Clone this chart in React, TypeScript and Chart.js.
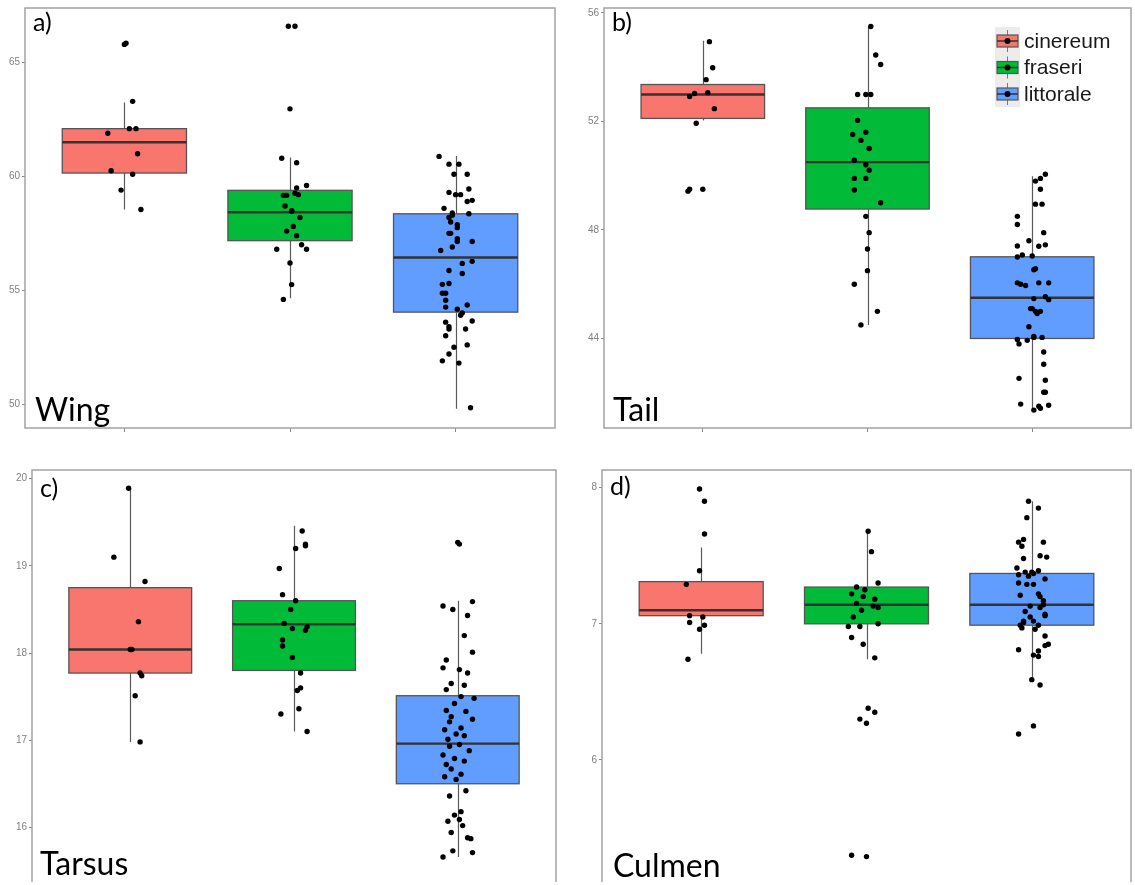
import { useEffect, useRef } from 'react';
import { Chart, registerables } from 'chart.js';
Chart.register(...registerables);

const SPECIES = ['cinereum', 'fraseri', 'littorale'];
const COLORS = ['#F8766D', '#00BA38', '#619CFF'];

// ---- a) Wing ----
const wingTicks = [50, 55, 60, 65];
// [lower whisker, q1, median, q3, upper whisker]
const wingStats = [
  [58.55, 60.15, 61.5, 62.1, 63.25],
  [54.65, 57.18, 58.43, 59.39, 60.83],
  [49.8, 54.04, 56.44, 58.36, 60.9],
];
const wingCin = [65.8, 65.85, 63.3, 62.1, 62.1, 61.9, 61.0, 60.25, 60.1, 59.4, 58.55];
const wingCinJit = [0, 0.01, 0.05, 0.03, 0.07, -0.1, 0.08, -0.08, 0.05, -0.02, 0.1];
const wingFra = [66.6, 66.6, 62.97, 60.8, 60.6, 59.6, 59.5, 59.26, 59.2, 59.17, 59.17, 58.7, 58.47, 58.5, 58.2, 57.8, 57.6, 57.4, 57.0, 56.8, 56.8, 56.2, 55.25, 54.6];
const wingFraJit = [-0.01, 0.03, 0, -0.05, 0.04, 0.1, 0.04, 0.03, 0.05, -0.04, -0.02, -0.03, 0.01, 0.01, 0.06, 0.02, -0.02, 0.04, 0.07, 0.1, -0.08, 0, 0.01, -0.04];
const wingLit = [60.88, 60.54, 60.54, 60.1, 60.1, 59.45, 59.3, 59.2, 59.2, 58.9, 58.95, 58.6, 58.36, 58.4, 58.3, 58.2, 58.0, 57.88, 57.75, 57.5, 57.5, 57.27, 57.14, 57.14, 56.9, 56.75, 56.27, 56.18, 55.87, 55.74, 55.3, 55.26, 54.87, 54.87, 54.56, 54.26, 54.35, 54.17, 54.0, 53.9, 53.6, 53.65, 53.4, 53.3, 53.3, 53.0, 52.5, 52.6, 52.2, 51.9, 51.8, 49.84];
const wingLitJit = [-0.1, -0.04, 0.02, -0.01, 0.07, 0.08, -0.04, 0, 0.03, 0.07, 0.1, -0.07, 0.08, -0.02, -0.02, -0.04, -0.03, 0.01, 0.01, -0.04, -0.03, 0.01, 0.01, 0.1, -0.02, -0.09, 0.1, 0.04, -0.04, 0.04, -0.04, -0.08, -0.08, -0.06, -0.06, -0.06, 0.07, 0.01, 0.04, 0.03, -0.06, 0.1, -0.04, -0.04, 0.06, -0.06, -0.01, 0.07, -0.04, -0.08, 0.02, 0.09];

// ---- b) Tail ----
const tailTicks = [44, 48, 52, 56];
const tailStats = [
  [52.03, 52.11, 52.99, 53.36, 54.97],
  [44.5, 48.77, 50.5, 52.5, 55.5],
  [41.4, 44.0, 45.5, 47.01, 49.98],
];
const tailCin = [54.94, 53.98, 53.54, 53.06, 53.03, 52.92, 52.47, 51.93, 49.5, 49.43, 49.5];
const tailCinJit = [0.04, 0.06, 0.02, 0.03, -0.05, -0.08, 0.07, -0.04, -0.08, -0.09, 0];
const tailFra = [55.5, 54.45, 54.1, 52.99, 52.99, 52.99, 52.04, 51.52, 51.6, 51.3, 51.0, 50.57, 50.4, 50.2, 49.9, 49.9, 49.47, 49.0, 48.5, 47.9, 47.3, 46.5, 46.0, 45.0, 44.5];
const tailFraJit = [0.02, 0.05, 0.08, -0.06, -0.01, 0.02, -0.06, -0.09, -0.01, -0.04, 0.01, -0.08, -0.01, 0.01, -0.08, -0.01, -0.08, 0.08, -0.01, 0.01, 0, 0, -0.08, 0.06, -0.04];
const tailLit = [50.05, 49.9, 49.5, 49.8, 48.95, 48.95, 48.5, 48.2, 47.9, 47.6, 47.41, 47.45, 47.4, 47.0, 47.08, 47.04, 46.53, 46.57, 46.05, 46.0, 45.95, 46.05, 46.05, 45.47, 45.54, 45.43, 45.1, 45.1, 45.0, 44.92, 45.0, 44.43, 43.96, 43.8, 43.93, 44.07, 44.04, 44.04, 43.5, 43.05, 42.53, 42.46, 42.02, 42.02, 41.58, 41.36, 41.5, 41.43, 41.54];
const tailLitJit = [0.08, 0.05, 0.05, 0.02, 0.02, 0.06, -0.09, -0.09, 0.07, -0.02, -0.09, 0.08, 0.04, -0.09, -0.06, 0, 0.01, 0.02, -0.09, -0.07, -0.04, 0.04, 0.1, 0.01, 0.08, 0.1, -0.01, 0, 0.02, 0.03, 0.05, -0.02, -0.09, -0.08, -0.03, 0.01, 0.01, 0.06, 0.07, 0.07, -0.08, 0.08, 0.07, 0.08, -0.07, 0.01, 0.04, 0.05, 0.1];

// ---- c) Tarsus ----
const tarTicks = [16, 17, 18, 19, 20];
const tarStats = [
  [16.98, 17.77, 18.04, 18.75, 19.89],
  [17.1, 17.8, 18.33, 18.6, 19.46],
  [15.66, 16.5, 16.96, 17.51, 18.6],
];
const tarCin = [19.89, 19.1, 18.82, 18.36, 18.04, 18.04, 17.77, 17.74, 17.51, 16.98];
const tarCinJit = [-0.01, -0.1, 0.09, 0.05, 0, 0.01, 0.06, 0.07, 0.03, 0.06];
const tarFra = [19.4, 19.25, 19.23, 19.2, 18.97, 18.67, 18.6, 18.5, 18.34, 18.3, 18.28, 18.26, 18.15, 18.08, 17.95, 17.77, 17.6, 17.57, 17.36, 17.3, 17.1];
const tarFraJit = [0.05, 0.07, 0.07, 0.01, -0.09, -0.07, 0.01, -0.02, -0.06, 0.08, -0.01, 0.07, -0.07, -0.07, -0.01, 0.04, 0.04, 0.02, 0.03, -0.08, 0.08];
const tarLit = [19.27, 19.25, 18.59, 18.54, 18.5, 18.43, 18.2, 18.01, 17.92, 17.83, 17.81, 17.77, 17.65, 17.63, 17.58, 17.5, 17.48, 17.42, 17.34, 17.33, 17.27, 17.24, 17.21, 17.14, 17.12, 17.07, 17.05, 17.01, 16.95, 16.93, 16.88, 16.83, 16.79, 16.76, 16.72, 16.67, 16.61, 16.58, 16.55, 16.42, 16.36, 16.18, 16.14, 16.09, 16.07, 16.02, 15.94, 15.88, 15.87, 15.73, 15.71, 15.66];
const tarLitJit = [0, 0.01, 0.09, -0.09, -0.03, 0.06, 0.04, 0.09, -0.07, -0.09, 0.01, 0.06, -0.04, 0.04, -0.07, 0.02, 0.1, -0.02, -0.07, 0.05, -0.04, 0.09, -0.05, 0.02, -0.08, -0.01, 0.04, -0.06, 0.01, -0.05, 0.07, -0.09, -0.02, 0.04, -0.07, -0.04, 0.02, -0.08, -0.01, 0.05, -0.05, 0.02, -0.02, 0.01, -0.06, 0.03, -0.04, 0.06, 0.08, -0.03, 0.09, -0.09];

// ---- d) Culmen ----
const culTicks = [5, 6, 7, 8];
const culStats = [
  [6.78, 7.06, 7.1, 7.31, 7.56],
  [6.74, 7.0, 7.14, 7.27, 7.69],
  [6.59, 6.99, 7.14, 7.37, 7.9],
];
const culCin = [7.99, 7.9, 7.66, 7.39, 7.29, 7.06, 7.05, 7.01, 6.99, 6.96, 6.74];
const culCinJit = [-0.01, 0.02, 0.02, -0.01, -0.09, -0.07, 0.01, -0.07, 0.02, -0.01, -0.08];
const culFra = [7.68, 7.53, 7.3, 7.27, 7.25, 7.22, 7.2, 7.18, 7.15, 7.13, 7.12, 7.1, 7.05, 7.0, 6.98, 6.98, 6.9, 6.85, 6.75, 6.38, 6.35, 6.3, 6.27, 5.3, 5.29];
const culFraJit = [0.01, 0.03, 0.07, -0.06, -0.01, -0.09, -0.02, 0.05, -0.06, 0.04, 0.07, -0.03, -0.08, 0.07, -0.11, -0.04, -0.09, -0.02, 0.05, 0.01, 0.05, -0.04, 0, -0.09, 0];
const culLit = [7.9, 7.85, 7.78, 7.6, 7.62, 7.57, 7.6, 7.48, 7.5, 7.49, 7.41, 7.38, 7.38, 7.37, 7.39, 7.36, 7.35, 7.3, 7.29, 7.29, 7.33, 7.21, 7.22, 7.2, 7.17, 7.14, 7.13, 7.12, 7.09, 7.07, 7.06, 7.05, 7.02, 7.02, 7.01, 6.99, 6.97, 6.99, 6.96, 6.91, 6.85, 6.84, 6.81, 6.8, 6.77, 6.76, 6.59, 6.55, 6.25, 6.19];
const culLitJit = [-0.02, 0.04, -0.03, -0.08, -0.05, -0.06, 0.07, -0.05, 0.05, 0.09, -0.09, -0.04, 0, 0.01, 0.04, -0.08, -0.02, -0.08, -0.03, 0.01, 0.08, -0.07, 0.04, 0.05, 0.07, 0.07, -0.01, 0.05, -0.04, 0.08, 0.08, -0.01, 0.01, -0.05, -0.05, -0.07, -0.06, 0.04, 0.02, 0.08, 0.1, 0.08, -0.08, 0.04, 0.01, 0.04, 0, 0.05, 0.01, -0.08];

type PanelDef = {
  tag: string;
  name: string;
  ticks: number[];
  yMin: number;
  yMax: number;
  stats: number[][];
  values: number[][];
  jitter: number[][];
  box: { left: number; top: number; width: number; height: number };
  area: { left: number; top: number; right: number; bottom: number };
  xAxis: boolean;
  legend: boolean;
  tagY: number;
  nameX: number;
  nameY: number;
};

const PANELS: PanelDef[] = [
  {
    tag: 'a)', name: 'Wing', ticks: wingTicks, yMin: 48.95, yMax: 67.4, stats: wingStats,
    values: [wingCin, wingFra, wingLit], jitter: [wingCinJit, wingFraJit, wingLitJit],
    box: { left: 0, top: 0, width: 562, height: 440 },
    area: { left: 25, top: 6, right: 555, bottom: 428 },
    xAxis: true, legend: false, tagY: 31, nameX: 35, nameY: 421,
  },
  {
    tag: 'b)', name: 'Tail', ticks: tailTicks, yMin: 40.7, yMax: 56.18, stats: tailStats,
    values: [tailCin, tailFra, tailLit], jitter: [tailCinJit, tailFraJit, tailLitJit],
    box: { left: 562, top: 0, width: 573, height: 440 },
    area: { left: 42, top: 6, right: 571, bottom: 428 },
    xAxis: true, legend: true, tagY: 31, nameX: 51, nameY: 421,
  },
  {
    tag: 'c)', name: 'Tarsus', ticks: tarTicks, yMin: 15.43, yMax: 20.1, stats: tarStats,
    values: [tarCin, tarFra, tarLit], jitter: [tarCinJit, tarFraJit, tarLitJit],
    box: { left: 0, top: 440, width: 562, height: 445 },
    area: { left: 32, top: 30, right: 556, bottom: 445 },
    xAxis: false, legend: false, tagY: 57, nameX: 40, nameY: 435,
  },
  {
    tag: 'd)', name: 'Culmen', ticks: culTicks, yMin: 5.14, yMax: 8.13, stats: culStats,
    values: [culCin, culFra, culLit], jitter: [culCinJit, culFraJit, culLitJit],
    box: { left: 562, top: 440, width: 573, height: 445 },
    area: { left: 40, top: 30, right: 571, bottom: 445 },
    xAxis: false, legend: false, tagY: 55, nameX: 51, nameY: 437,
  },
];

const BOX_WIDTH = 0.75;
const LABEL_FONT = 'Lato, "Open Sans", sans-serif';

function makePlugin(p: PanelDef) {
  return {
    id: 'boxes' + p.tag,
    beforeDatasetsDraw(chart: any) {
      const { ctx, chartArea, scales } = chart;
      const x = scales.x;
      const y = scales.y;
      ctx.save();
      ctx.beginPath();
      ctx.rect(chartArea.left, chartArea.top, chartArea.right - chartArea.left, chartArea.bottom - chartArea.top);
      ctx.clip();
      p.stats.forEach((st, k) => {
        const [lo, q1, med, q3, hi] = st;
        const cx = Math.round(x.getPixelForValue(k + 1)) + 0.5;
        const xl = x.getPixelForValue(k + 1 - BOX_WIDTH / 2);
        const xr = x.getPixelForValue(k + 1 + BOX_WIDTH / 2);
        const yq1 = y.getPixelForValue(q1);
        const yq3 = y.getPixelForValue(q3);
        ctx.strokeStyle = '#5a5a5a';
        ctx.lineWidth = 1.2;
        ctx.beginPath();
        ctx.moveTo(cx, y.getPixelForValue(hi));
        ctx.lineTo(cx, yq3);
        ctx.moveTo(cx, yq1);
        ctx.lineTo(cx, y.getPixelForValue(lo));
        ctx.stroke();
        ctx.fillStyle = COLORS[k];
        ctx.fillRect(xl, yq3, xr - xl, yq1 - yq3);
        ctx.strokeStyle = '#555555';
        ctx.lineWidth = 1.3;
        ctx.strokeRect(xl, yq3, xr - xl, yq1 - yq3);
        ctx.strokeStyle = '#333333';
        ctx.lineWidth = 2.4;
        ctx.beginPath();
        const ym = y.getPixelForValue(med);
        ctx.moveTo(xl, ym);
        ctx.lineTo(xr, ym);
        ctx.stroke();
      });
      ctx.restore();
    },
    afterDraw(chart: any) {
      const { ctx, chartArea } = chart;
      ctx.save();
      ctx.strokeStyle = '#a3a3a3';
      ctx.lineWidth = 1.5;
      const l = chartArea.left, t = chartArea.top, r = chartArea.right, b = chartArea.bottom;
      ctx.beginPath();
      if (p.xAxis) {
        ctx.rect(l, t, r - l, b - t);
      } else {
        ctx.moveTo(l, b + 5);
        ctx.lineTo(l, t);
        ctx.lineTo(r, t);
        ctx.lineTo(r, b + 5);
      }
      ctx.stroke();
      // panel tag and name
      ctx.fillStyle = '#000';
      ctx.textBaseline = 'alphabetic';
      ctx.textAlign = 'left';
      ctx.font = '25px ' + LABEL_FONT;
      ctx.fillText(p.tag, l + 8, p.tagY);
      ctx.font = '32px ' + LABEL_FONT;
      ctx.fillText(p.name, p.nameX, p.nameY);
      if (p.legend) {
        const bx = 433;
        ctx.fillStyle = '#ececec';
        ctx.fillRect(bx, 27, 25, 80);
        SPECIES.forEach((s, k) => {
          const cy = 41 + k * 26.5;
          const kx = bx + 2;
          ctx.strokeStyle = '#777';
          ctx.lineWidth = 1;
          ctx.beginPath();
          ctx.moveTo(kx + 10.5, cy - 11);
          ctx.lineTo(kx + 10.5, cy + 11);
          ctx.stroke();
          ctx.fillStyle = COLORS[k];
          ctx.fillRect(kx, cy - 6, 21, 12);
          ctx.strokeStyle = '#555';
          ctx.lineWidth = 1.2;
          ctx.strokeRect(kx, cy - 6, 21, 12);
          ctx.strokeStyle = '#333';
          ctx.lineWidth = 1.5;
          ctx.beginPath();
          ctx.moveTo(kx, cy);
          ctx.lineTo(kx + 21, cy);
          ctx.stroke();
          ctx.fillStyle = '#000';
          ctx.beginPath();
          ctx.arc(kx + 10.5, cy, 3, 0, Math.PI * 2);
          ctx.fill();
          ctx.fillStyle = '#1a1a1a';
          ctx.font = '21px "Liberation Sans", Arial, sans-serif';
          ctx.textBaseline = 'middle';
          ctx.fillText(s, bx + 29, cy + 1);
        });
      }
      ctx.restore();
    },
  };
}

function Panel({ p }: { p: PanelDef }) {
  const ref = useRef<HTMLCanvasElement | null>(null);
  useEffect(() => {
    if (!ref.current) return;
    const W = p.box.width, H = p.box.height;
    const chart = new Chart(ref.current, {
      type: 'scatter',
      data: {
        datasets: SPECIES.map((s, k) => ({
          label: s,
          data: p.values[k].map((v, i) => ({ x: k + 1 + (p.jitter[k][i] ?? 0), y: v })),
          pointRadius: 2.7,
          pointBackgroundColor: '#000',
          pointBorderColor: '#000',
          pointBorderWidth: 0,
          showLine: false,
        })),
      },
      options: {
        responsive: false,
        animation: false,
        devicePixelRatio: 1,
        layout: { padding: { top: p.area.top, right: W - p.area.right, left: 0, bottom: p.xAxis ? 0 : H - p.area.bottom } },
        plugins: { legend: { display: false }, tooltip: { enabled: false } },
        scales: {
          x: {
            type: 'linear',
            display: p.xAxis,
            min: 0.4,
            max: 3.6,
            afterBuildTicks: (s: any) => { s.ticks = [1, 2, 3].map((v) => ({ value: v })); },
            afterFit: (s: any) => { s.height = H - p.area.bottom; },
            grid: { drawOnChartArea: false, drawTicks: true, tickLength: 4, color: '#888', lineWidth: 1 },
            border: { display: false },
            ticks: { display: false },
          },
          y: {
            type: 'linear',
            min: p.yMin,
            max: p.yMax,
            afterBuildTicks: (s: any) => { s.ticks = p.ticks.map((v) => ({ value: v })); },
            afterFit: (s: any) => { s.width = p.area.left; },
            grid: { drawOnChartArea: false, drawTicks: true, tickLength: 3, color: '#888', lineWidth: 1 },
            border: { display: false },
            ticks: {
              color: '#808080',
              padding: 2,
              font: { size: 10, family: '"Liberation Sans", Arial, sans-serif' },
              callback: (v: any) => String(v),
            },
          },
        },
      },
      plugins: [makePlugin(p)],
    } as any);
    return () => chart.destroy();
  }, [p]);
  return (
    <canvas
      ref={ref}
      width={p.box.width}
      height={p.box.height}
      style={{ position: 'absolute', left: p.box.left, top: p.box.top, width: p.box.width, height: p.box.height }}
    />
  );
}

export default function App() {
  useEffect(() => {
    document.body.style.margin = '0';
  }, []);
  return (
    <div style={{ position: 'relative', width: 1135, height: 885, background: '#fff', overflow: 'hidden' }}>
      {PANELS.map((p) => (
        <Panel key={p.tag} p={p} />
      ))}
    </div>
  );
}
